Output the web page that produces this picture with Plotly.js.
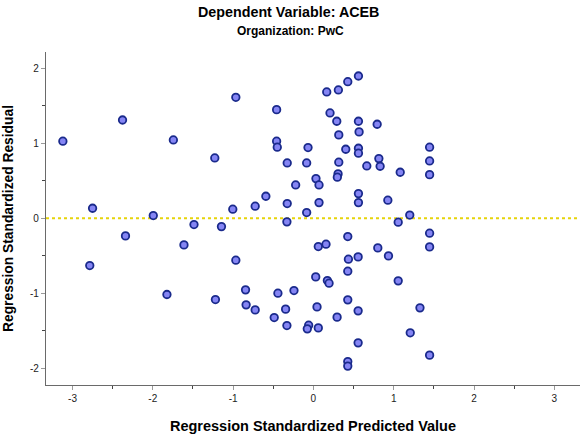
<!DOCTYPE html>
<html>
<head>
<meta charset="utf-8">
<script src="https://cdn.plot.ly/plotly-3.0.1.min.js"></script>
<style>html,body{margin:0;padding:0;background:#fff;}#chart{width:580px;height:435px;}</style>
</head>
<body>
<div id="chart"></div>
<script>
// Regression standardized predicted values (x) and residuals (y)
const predicted = [
  -3.12, -2.75, -2.377, -1.994, -1.744, -1.228, -0.966, -1.004,
  -0.458, 0.166, 0.311, 0.428, 0.561, 0.207, 0.291, 0.561, 0.794, 0.569, 0.316,
  -0.458, -0.45, -0.067, 0.403, 0.561, 0.561, 0.815, 0.831, 0.665, -0.326, -0.084,
  0.316, 1.081, 0.307, 0.298, 0.032, 0.07, -0.221, -0.592, -0.725, -0.326, 0.07,
  0.561, 0.561, 0.927, -0.084, 1.2,
  1.447, 1.447, 1.447,
  -2.34, -1.487, -1.145, -1.612, -2.785, -0.966, -1.824, -1.22,
  -0.33, 1.056, 0.428, 0.157, 0.061, 0.802, 0.935, 0.557, 0.436, 0.428, 0.029,
  1.056, 0.174, 0.195, -0.845, -0.442, -0.242, -0.838, -0.725, -0.346, 0.045,
  0.428, 0.557, 0.295, -0.488, -0.33, -0.059, -0.076, 0.061, 0.557, 0.428, 0.428,
  1.447, 1.447, 1.327, 1.206, 1.447
];
const residual = [
  1.027, 0.133, 1.31, 0.035, 1.044, 0.804, 1.613, 0.12,
  1.448, 1.684, 1.711, 1.821, 1.897, 1.404, 1.293, 1.293, 1.253, 1.151, 1.111,
  1.027, 0.947, 0.942, 0.92, 0.933, 0.867, 0.795, 0.693, 0.697, 0.737, 0.737,
  0.747, 0.613, 0.591, 0.547, 0.528, 0.444, 0.444, 0.293, 0.16, 0.195, 0.208,
  0.328, 0.208, 0.24, 0.075, 0.042,
  0.947, 0.764, 0.581,
  -0.236, -0.085, -0.112, -0.356, -0.632, -0.56, -1.018, -1.085,
  -0.049, -0.053, -0.245, -0.347, -0.378, -0.396, -0.503, -0.516, -0.547, -0.707, -0.783,
  -0.836, -0.832, -0.867, -0.956, -1.0, -0.965, -1.156, -1.223, -1.213, -1.183,
  -1.089, -1.236, -1.32, -1.325, -1.432, -1.427, -1.476, -1.463, -1.663, -1.912, -1.973,
  -0.2, -0.383, -1.196, -1.529, -1.827
];
const xTickVals = [-3, -2, -1, 0, 1, 2, 3];
const yTickVals = [-2, -1, 0, 1, 2];

const trace = {
  type: 'scatter', mode: 'markers',
  x: predicted, y: residual,
  marker: {symbol: 'circle', size: 7.5, color: '#8585f4', line: {color: '#1a2a8c', width: 1.8}},
  hoverinfo: 'none', showlegend: false, cliponaxis: false
};

const layout = {
  width: 580, height: 435,
  margin: {l: 46, r: 0, t: 52, b: 50},
  paper_bgcolor: '#ffffff', plot_bgcolor: '#ffffff',
  font: {family: 'Arial, "Liberation Sans", sans-serif', color: '#000'},
  xaxis: {
    range: [-3.33, 3.32], showgrid: false, zeroline: false,
    showline: true, linecolor: '#6a6a6a', linewidth: 1.2, mirror: false,
    tickmode: 'array', tickvals: xTickVals, ticktext: xTickVals.map(String),
    ticks: 'outside', ticklen: 4, tickcolor: '#9a9a9a', tickwidth: 1,
    minor: {ticks: 'outside', ticklen: 3, tickcolor: '#444', dtick: 0.5, tick0: 0},
    tickfont: {size: 10, color: '#222'},
    title: {text: '<b>Regression Standardized Predicted Value</b>', font: {size: 14.5, color: '#000'}, standoff: 17}
  },
  yaxis: {
    range: [-2.225, 2.217], showgrid: false, zeroline: false,
    showline: true, linecolor: '#6a6a6a', linewidth: 1.2,
    tickmode: 'array', tickvals: yTickVals, ticktext: yTickVals.map(String),
    ticks: 'outside', ticklen: 4, tickcolor: '#9a9a9a', tickwidth: 1,
    minor: {ticks: 'outside', ticklen: 3, tickcolor: '#444', dtick: 0.5, tick0: 0},
    tickfont: {size: 10, color: '#222'},
    title: {text: '<b>Regression Standardized Residual</b>', font: {size: 13.8, color: '#000'}, standoff: 13}
  },
  shapes: [{
    type: 'line', xref: 'paper', x0: 0, x1: 1, yref: 'y', y0: 0, y1: 0,
    line: {color: '#e6d40a', width: 2, dash: 'dot'}, layer: 'below'
  }],
  annotations: [
    {text: '<b>Dependent Variable: ACEB</b>', xref: 'paper', yref: 'paper',
     x: (288 - 46) / 534, y: 1 + (52 - 12) / 333, xanchor: 'center', yanchor: 'middle',
     showarrow: false, font: {size: 14.3, color: '#000'}},
    {text: '<b>Organization: PwC</b>', xref: 'paper', yref: 'paper',
     x: (290 - 46) / 534, y: 1 + (52 - 31) / 333, xanchor: 'center', yanchor: 'middle',
     showarrow: false, font: {size: 12, color: '#000'}}
  ]
};

Plotly.newPlot('chart', [trace], layout, {displayModeBar: false, staticPlot: true});
</script>
</body>
</html>
